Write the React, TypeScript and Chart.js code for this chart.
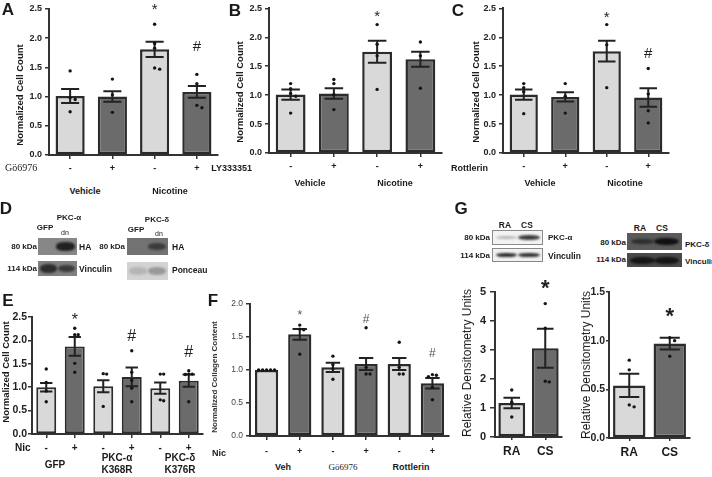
import React, { useEffect, useRef } from "react";
import { Chart, registerables } from "chart.js";

Chart.register(...registerables);

const FONT = '"Liberation Sans", Arial, Helvetica, sans-serif';
const SERIF = '"Liberation Serif", "Times New Roman", serif';
const LIGHT = "#d9d9d9";
const DARK = "#6b6b6b";
const EDGE = "#2b2b2b";

// ---------- data ----------
const abcTicks = ["-", "+", "-", "+"];

const aMeans = [1.01, 1.0, 1.81, 1.08];
const aErr = [0.12, 0.09, 0.13, 0.1];
const aPoints = [
  [1.44, 0.98, 0.95, 0.74],
  [1.3, 1.03, 0.73],
  [2.24, 1.91, 1.83, 1.49, 1.47],
  [1.38, 1.22, 0.85, 0.81],
];
const aMarks = ["", "", "*", "#"];
const aMarkVals = [null, null, 2.48, 1.85];

const bMeans = [1.01, 1.03, 1.75, 1.62];
const bErr = [0.09, 0.09, 0.19, 0.13];
const bPoints = [
  [1.2, 1.11, 1.03, 0.98, 0.69],
  [1.27, 1.2, 1.01, 0.75],
  [2.22, 1.88, 1.68, 1.1],
  [1.92, 1.68, 1.12],
];
const bMarks = ["", "", "*", ""];
const bMarkVals = [null, null, 2.36, null];

const cMeans = [1.01, 0.97, 1.76, 0.96];
const cErr = [0.09, 0.08, 0.18, 0.16];
const cPoints = [
  [1.2, 1.13, 1.06, 0.68],
  [1.2, 0.98, 0.69],
  [2.22, 1.87, 1.13],
  [1.46, 1.02, 0.73, 0.52],
];
const cMarks = ["", "", "*", "#"];
const cMarkVals = [null, null, 2.33, 1.71];

const efTicks = ["-", "+", "-", "+", "-", "+"];

const eMeans = [1.0, 1.87, 1.02, 1.22, 0.98, 1.14];
const eErr = [0.09, 0.2, 0.13, 0.2, 0.12, 0.13];
const ePoints = [
  [1.39, 1.1, 0.92, 0.69],
  [2.26, 2.12, 2.12, 1.51, 1.32],
  [1.29, 1.28, 0.59],
  [1.78, 1.32, 1.15, 0.98, 0.69],
  [1.28, 1.28, 0.73, 0.71],
  [1.35, 1.28, 1.28, 1.27, 0.69],
];
const eMarks = ["", "*", "", "#", "", "#"];
const eMarkVals = [null, 2.43, null, 2.09, null, 1.73];

const fMeans = [1.0, 1.54, 1.04, 1.09, 1.09, 0.8];
const fErr = [0, 0.08, 0.07, 0.09, 0.09, 0.08];
const fPoints = [
  [1.0, 1.0, 1.0, 1.0, 1.0],
  [1.68, 1.62, 1.61, 1.24],
  [1.21, 1.08, 1.02, 0.86],
  [1.64, 1.04, 0.94, 0.94],
  [1.42, 1.04, 0.94, 0.94],
  [0.93, 0.92, 0.9, 0.74, 0.55],
];
const fMarks = ["", "*", "", "#", "", "#"];
const fMarkVals = [null, 1.82, null, 1.76, null, 1.24];

const gTicks = ["RA", "CS"];

const g1Means = [1.17, 3.06];
const g1Err = [0.18, 0.67];
const g1Points = [
  [1.62, 1.2, 0.69],
  [4.6, 3.75, 1.92, 1.9],
];
const g1Marks = ["", "*"];
const g1MarkVals = [null, 5.09];

const g2Means = [0.54, 0.97];
const g2Err = [0.12, 0.06];
const g2Points = [
  [0.8, 0.7, 0.34, 0.32],
  [1.03, 1.0, 0.84],
];
const g2Marks = ["", "*"];
const g2MarkVals = [null, 1.245];

// ---------- chart panel ----------
type Spec = {
  left: number; top: number; width: number; height: number;
  axisX: number; xEnd: number; yTopPx: number; yBottomPx: number;
  labels: string[]; means: number[]; errs: number[]; points: number[][];
  marks: string[]; markVals: (number | null)[];
  yMax: number; yStep: number; dec: number;
  fills: string[]; barPct: number; borderW: number;
  yFont: number; yWeight: string; yColor: string; yTickLen: number; yPad: number;
  xFont: number; xTickLen: number; xPad: number;
  markFont: string; markColor: string;
  pointR: number; capFrac: number; errW: number; axisW: number;
};

function jitter(vals: number[], yMax: number) {
  const out: { dx: number; v: number }[] = [];
  vals.forEach((v) => {
    const near = out.filter((o) => Math.abs(o.v - v) < yMax * 0.025).length;
    const dx = near === 0 ? 0 : (near % 2 === 1 ? 1 : -1) * Math.ceil(near / 2) * 0.12;
    out.push({ dx, v });
  });
  return out;
}

function BarPanel({ s }: { s: Spec }) {
  const ref = useRef<HTMLCanvasElement>(null);
  useEffect(() => {
    const n = s.labels.length;
    const yW = s.axisX - s.left;
    const padTop = s.yTopPx - s.top;
    const xH = s.top + s.height - s.yBottomPx;
    const padRight = s.left + s.width - s.xEnd;
    const pts: { x: number; y: number }[] = [];
    s.points.forEach((arr, i) =>
      jitter(arr, s.yMax).forEach((p) => pts.push({ x: i + p.dx, y: p.v }))
    );
    const overlay = {
      id: "overlay",
      afterDatasetDraw(chart: any, args: any) {
        if (args.index !== 0) return;
        const ctx = chart.ctx;
        const y = chart.scales.y;
        const meta = chart.getDatasetMeta(0);
        ctx.save();
        ctx.strokeStyle = "#222";
        ctx.lineWidth = s.errW;
        meta.data.forEach((bar: any, i: number) => {
          const e = s.errs[i];
          if (!e) return;
          const m = s.means[i];
          const x = bar.x;
          const hw = bar.width * s.capFrac;
          const y1 = y.getPixelForValue(m + e);
          const y0 = y.getPixelForValue(m - e);
          ctx.beginPath();
          ctx.moveTo(x, y0);
          ctx.lineTo(x, y1);
          ctx.moveTo(x - hw, y1);
          ctx.lineTo(x + hw, y1);
          ctx.moveTo(x - hw, y0);
          ctx.lineTo(x + hw, y0);
          ctx.stroke();
        });
        ctx.restore();
      },
      afterDraw(chart: any) {
        const ctx = chart.ctx;
        const y = chart.scales.y;
        const meta = chart.getDatasetMeta(0);
        ctx.save();
        ctx.font = s.markFont;
        ctx.fillStyle = s.markColor;
        ctx.textAlign = "center";
        ctx.textBaseline = "middle";
        s.marks.forEach((mk, i) => {
          const v = s.markVals[i];
          if (!mk || v == null) return;
          ctx.fillText(mk, meta.data[i].x, y.getPixelForValue(v));
        });
        ctx.restore();
      },
    };
    const chart = new Chart(ref.current as HTMLCanvasElement, {
      type: "bar",
      data: {
        labels: s.labels,
        datasets: [
          {
            type: "bar",
            data: s.means,
            backgroundColor: s.fills,
            borderColor: EDGE,
            borderWidth: s.borderW,
            borderSkipped: false,
            barPercentage: s.barPct,
            categoryPercentage: 1,
            grouped: false,
            xAxisID: "x",
            yAxisID: "y",
            order: 2,
          } as any,
          {
            type: "scatter",
            data: pts,
            xAxisID: "xp",
            yAxisID: "y",
            pointRadius: s.pointR,
            pointBackgroundColor: "#151515",
            pointBorderWidth: 0,
            showLine: false,
            order: 1,
          } as any,
        ],
      },
      options: {
        responsive: false,
        maintainAspectRatio: false,
        animation: false,
        events: [],
        layout: { padding: { left: 0, top: padTop, right: padRight, bottom: 0 } },
        plugins: { legend: { display: false }, tooltip: { enabled: false } },
        scales: {
          x: {
            type: "category",
            offset: true,
            grid: {
              display: true,
              drawOnChartArea: false,
              offset: false,
              tickLength: s.xTickLen,
              color: "#333",
              lineWidth: 1.5,
            },
            border: { display: true, color: "#333", width: s.axisW },
            ticks: {
              autoSkip: false,
              maxRotation: 0,
              padding: s.xPad,
              color: "#1a1a1a",
              font: { family: FONT, size: s.xFont, weight: "bold" },
            },
            afterFit: (sc: any) => {
              sc.height = xH;
            },
          },
          xp: {
            type: "linear",
            axis: "x",
            display: false,
            offset: false,
            grid: { offset: false },
            min: -0.5,
            max: n - 0.5,
          },
          y: {
            min: 0,
            max: s.yMax,
            grid: {
              display: true,
              drawOnChartArea: false,
              tickLength: s.yTickLen,
              color: "#333",
              lineWidth: 1.5,
            },
            border: { display: true, color: "#333", width: s.axisW },
            ticks: {
              stepSize: s.yStep,
              padding: s.yPad,
              color: s.yColor,
              font: { family: FONT, size: s.yFont, weight: s.yWeight as any },
              callback: (v: any) => Number(v).toFixed(s.dec),
            },
            afterFit: (sc: any) => {
              sc.width = yW;
            },
          },
        } as any,
      },
      plugins: [overlay as any],
    });
    return () => chart.destroy();
  }, []);
  return (
    <canvas
      ref={ref}
      width={s.width}
      height={s.height}
      style={{ position: "absolute", left: s.left, top: s.top, width: s.width, height: s.height }}
    />
  );
}

// ---------- text & blots ----------
function T(p: {
  x: number; y: number; s: string; size?: number; w?: number; align?: string;
  font?: string; rot?: boolean; color?: string;
}) {
  const { x, y, s, size = 9, w = 700, align = "center", font = FONT, rot = false, color = "#1a1a1a" } = p;
  const tx = align === "center" ? "-50%" : align === "right" ? "-100%" : "0";
  return (
    <div
      style={{
        position: "absolute",
        left: x,
        top: y,
        transform: rot ? "translate(-50%,-50%) rotate(-90deg)" : `translate(${tx},-50%)`,
        fontFamily: font,
        fontSize: size,
        fontWeight: w,
        lineHeight: 1,
        whiteSpace: "nowrap",
        color,
      }}
    >
      {s}
    </div>
  );
}

type Band = { c: number; w: number; h: number; color: string };
function Blot(p: { x: number; y: number; w: number; h: number; bg: string; bands: Band[]; border?: string }) {
  return (
    <div
      style={{
        position: "absolute",
        left: p.x,
        top: p.y,
        width: p.w,
        height: p.h,
        background: p.bg,
        border: p.border || "none",
        boxSizing: "border-box",
        overflow: "hidden",
      }}
    >
      {p.bands.map((b, i) => (
        <div
          key={i}
          style={{
            position: "absolute",
            left: `${(b.c - b.w / 2) * 100}%`,
            width: `${b.w * 100}%`,
            top: `${(0.5 - b.h / 2) * 100}%`,
            height: `${b.h * 100}%`,
            background: b.color,
            borderRadius: "45%",
            filter: "blur(1px)",
          }}
        />
      ))}
    </div>
  );
}

// ---------- specs ----------
const base = {
  yWeight: "bold", yColor: "#222", yTickLen: 4, yPad: 3,
  xTickLen: 4, xPad: 4, markColor: "#222", pointR: 1.7, capFrac: 0.31, errW: 2, axisW: 2,
};

const specA: Spec = {
  ...base, left: 0, top: 0, width: 224, height: 180, axisX: 49, xEnd: 218, yTopPx: 9, yBottomPx: 155,
  labels: abcTicks, means: aMeans, errs: aErr, points: aPoints, marks: aMarks, markVals: aMarkVals,
  yMax: 2.5, yStep: 0.5, dec: 1, fills: [LIGHT, DARK, LIGHT, DARK], barPct: 0.69, borderW: 2.5,
  yFont: 9, xFont: 9, markFont: `15px ${FONT}`,
};
const specB: Spec = {
  ...base, left: 244, top: 0, width: 206, height: 180, axisX: 269, xEnd: 442, yTopPx: 7, yBottomPx: 153,
  labels: abcTicks, means: bMeans, errs: bErr, points: bPoints, marks: bMarks, markVals: bMarkVals,
  yMax: 2.5, yStep: 0.5, dec: 1, fills: [LIGHT, DARK, LIGHT, DARK], barPct: 0.69, borderW: 2.5,
  yFont: 9, xFont: 9, markFont: `15px ${FONT}`,
};
const specC: Spec = {
  ...base, left: 478, top: 0, width: 199, height: 180, axisX: 503, xEnd: 669, yTopPx: 7, yBottomPx: 153,
  labels: abcTicks, means: cMeans, errs: cErr, points: cPoints, marks: cMarks, markVals: cMarkVals,
  yMax: 2.5, yStep: 0.5, dec: 1, fills: [LIGHT, DARK, LIGHT, DARK], barPct: 0.68, borderW: 2.5,
  yFont: 9, xFont: 9, markFont: `15px ${FONT}`,
};
const specE: Spec = {
  ...base, left: 8, top: 290, width: 199, height: 165, axisX: 32, xEnd: 203, yTopPx: 317, yBottomPx: 434,
  labels: efTicks, means: eMeans, errs: eErr, points: ePoints, marks: eMarks, markVals: eMarkVals,
  yMax: 2.5, yStep: 0.5, dec: 1, fills: [LIGHT, DARK, LIGHT, DARK, LIGHT, DARK], barPct: 0.7, borderW: 2,
  yFont: 10.5, yPad: 1, xFont: 10, markFont: `16px ${FONT}`,
};
const specF: Spec = {
  ...base, left: 222, top: 290, width: 231, height: 170, axisX: 250, xEnd: 449, yTopPx: 304, yBottomPx: 436,
  labels: efTicks, means: fMeans, errs: fErr, points: fPoints, marks: fMarks, markVals: fMarkVals,
  yMax: 2.0, yStep: 0.5, dec: 1, fills: [LIGHT, DARK, LIGHT, DARK, LIGHT, DARK], barPct: 0.7, borderW: 2.5,
  yFont: 8.5, yWeight: "normal", yColor: "#444", xFont: 9, xPad: 6, markFont: `12px ${FONT}`, markColor: "#555",
};
const specG1: Spec = {
  ...base, left: 470, top: 270, width: 98, height: 190, axisX: 495, xEnd: 562, yTopPx: 292, yBottomPx: 437,
  labels: gTicks, means: g1Means, errs: g1Err, points: g1Points, marks: g1Marks, markVals: g1MarkVals,
  yMax: 5, yStep: 1, dec: 0, fills: [LIGHT, DARK], barPct: 0.8, borderW: 2.5,
  yFont: 11, yTickLen: 5, yPad: 4, xFont: 12, xTickLen: 3, xPad: 4, markFont: `bold 22px ${FONT}`,
};
const specG2: Spec = {
  ...base, left: 585, top: 270, width: 111, height: 190, axisX: 609, xEnd: 690, yTopPx: 292, yBottomPx: 438,
  labels: gTicks, means: g2Means, errs: g2Err, points: g2Points, marks: g2Marks, markVals: g2MarkVals,
  yMax: 1.5, yStep: 0.5, dec: 1, fills: [LIGHT, DARK], barPct: 0.8, borderW: 2.5,
  yFont: 10.5, yTickLen: 3, yPad: 1, xFont: 12, xTickLen: 3, xPad: 4, markFont: `bold 22px ${FONT}`,
};

export default function App() {
  const title = "Normalized Cell Count";
  return (
    <div style={{ position: "absolute", left: 0, top: 0, width: 712, height: 477, background: "#fff", overflow: "hidden" }}>
      <BarPanel s={specA} />
      <BarPanel s={specB} />
      <BarPanel s={specC} />
      <BarPanel s={specE} />
      <BarPanel s={specF} />
      <BarPanel s={specG1} />
      <BarPanel s={specG2} />

      {/* Panels A-C */}
      <T x={8} y={9} s="A" size={17} />
      <T x={235} y={10} s="B" size={17} />
      <T x={458} y={10} s="C" size={17} />
      <T x={20} y={95} s={title} size={9.5} rot />
      <T x={240} y={92} s={title} size={9.5} rot />
      <T x={476} y={92} s={title} size={9.5} rot />
      <T x={5} y={168} s="Gö6976" size={10} w={400} align="left" font={SERIF} />
      <T x={252} y={168} s="LY333351" size={9} align="right" />
      <T x={488} y={168} s="Rottlerin" size={9} align="right" />
      <T x={85} y={191} s="Vehicle" size={9} />
      <T x={170} y={191} s="Nicotine" size={9} />
      <T x={310} y={183} s="Vehicle" size={9} />
      <T x={395} y={183} s="Nicotine" size={9} />
      <T x={540} y={183} s="Vehicle" size={9} />
      <T x={625} y={183} s="Nicotine" size={9} />

      {/* Panel D */}
      <T x={6} y={208} s="D" size={17} />
      <T x={69} y={218} s="PKC-α" size={8} />
      <T x={45} y={228} s="GFP" size={8} />
      <T x={65} y={232} s="dn" size={7} w={400} />
      <T x={37} y={247} s="80 kDa" size={8} align="right" />
      <T x={37} y={269} s="114 kDa" size={8} align="right" />
      <T x={79} y={247} s="HA" size={8.5} align="left" />
      <T x={79} y={269} s="Vinculin" size={8.5} align="left" />
      <Blot x={38} y={238} w={39} h={17} bg="#878787" bands={[{ c: 0.7, w: 0.48, h: 0.5, color: "#222" }]} />
      <Blot x={38} y={261} w={39} h={15} bg="#808080" bands={[{ c: 0.27, w: 0.46, h: 0.55, color: "#2c2c2c" }, { c: 0.73, w: 0.44, h: 0.5, color: "#3a3a3a" }]} />
      <T x={157} y={220} s="PKC-δ" size={8} />
      <T x={136} y={230} s="GFP" size={8} />
      <T x={159} y={233} s="dn" size={7} w={400} />
      <T x={125} y={247} s="80 kDa" size={8} align="right" />
      <T x={172} y={247} s="HA" size={8.5} align="left" />
      <T x={172} y={270} s="Ponceau" size={8.5} align="left" />
      <Blot x={127} y={238} w={41} h={17} bg="#727272" bands={[{ c: 0.72, w: 0.44, h: 0.4, color: "#3b3b3b" }]} />
      <Blot x={127} y={262} w={41} h={18} bg="#d3d3d3" bands={[{ c: 0.27, w: 0.46, h: 0.4, color: "#b5b5b5" }, { c: 0.73, w: 0.46, h: 0.45, color: "#999" }]} />

      {/* Panel E */}
      <T x={8} y={300} s="E" size={17} />
      <T x={6} y={372} s={title} size={9.5} rot />
      <T x={15} y={448} s="Nic" size={10} align="left" />
      <T x={55} y={465} s="GFP" size={10} />
      <T x={117} y={458} s="PKC-α" size={10} />
      <T x={117} y={470} s="K368R" size={10} />
      <T x={180} y={458} s="PKC-δ" size={10} />
      <T x={180} y={470} s="K376R" size={10} />

      {/* Panel F */}
      <T x={213} y={300} s="F" size={17} />
      <T x={215} y={377} s="Normalized Collagen Content" size={8} rot color="#333" />
      <T x={212} y={453} s="Nic" size={9} align="left" />
      <T x={283} y={467} s="Veh" size={9} />
      <T x={343} y={467} s="Gö6976" size={9} w={400} font={SERIF} />
      <T x={411} y={467} s="Rottlerin" size={9} />

      {/* Panel G */}
      <T x={461} y={208} s="G" size={17} />
      <T x={505} y={225} s="RA" size={8.5} />
      <T x={527} y={225} s="CS" size={8.5} />
      <T x={490} y={238} s="80 kDa" size={8} align="right" />
      <T x={490} y={256} s="114 kDa" size={8} align="right" />
      <T x={548} y={238} s="PKC-α" size={8} align="left" />
      <T x={548} y={256} s="Vinculin" size={8.5} align="left" />
      <Blot x={492} y={230} w={51} h={15} bg="#f3f3f3" border="1px solid #8a8a8a" bands={[{ c: 0.28, w: 0.42, h: 0.3, color: "#b8b8b8" }, { c: 0.73, w: 0.46, h: 0.45, color: "#3d3d3d" }]} />
      <Blot x={492} y={248} w={51} h={14} bg="#f1f1f1" border="1px solid #8a8a8a" bands={[{ c: 0.28, w: 0.44, h: 0.4, color: "#2e2e2e" }, { c: 0.73, w: 0.44, h: 0.4, color: "#333" }]} />
      <T x={640} y={228} s="RA" size={8.5} />
      <T x={662} y={228} s="CS" size={8.5} />
      <T x={626} y={243} s="80 kDa" size={8} align="right" />
      <T x={626} y={260} s="114 kDa" size={8} align="right" />
      <T x={685} y={245} s="PKC-δ" size={8} align="left" />
      <T x={685} y={262} s="Vinculin" size={8} align="left" />
      <Blot x={627} y={233} w={55} h={17} bg="#5a5a5a" bands={[{ c: 0.28, w: 0.42, h: 0.35, color: "#2e2e2e" }, { c: 0.72, w: 0.46, h: 0.45, color: "#111" }]} />
      <Blot x={627} y={253} w={55} h={14} bg="#4a4a4a" bands={[{ c: 0.28, w: 0.46, h: 0.5, color: "#151515" }, { c: 0.72, w: 0.46, h: 0.5, color: "#151515" }]} />
      <T x={467} y={363} s="Relative Densitometry Units" size={12} w={400} rot />
      <T x={586} y={365} s="Relative Densitometry Units" size={12} w={400} rot />
    </div>
  );
}
